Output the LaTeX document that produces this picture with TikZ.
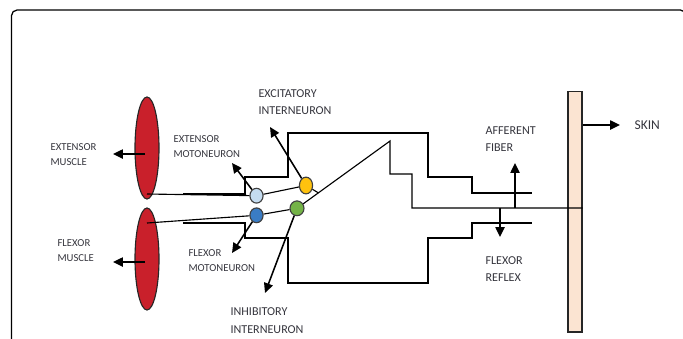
\documentclass[tikz,border=0pt]{standalone}
\usepackage{fontspec}
\setmainfont{Carlito}
\usetikzlibrary{shapes.geometric, positioning, arrows.meta, calc}
\definecolor{musclered}{HTML}{C9202B}
\definecolor{extblue}{HTML}{C5DCF0}
\definecolor{flexblue}{HTML}{3A7CC4}
\definecolor{excityellow}{HTML}{FFC20E}
\definecolor{inhibgreen}{HTML}{74B347}
\definecolor{skinpeach}{HTML}{FBE4D2}
\definecolor{labelgray}{HTML}{36363E}

\begin{document}
\begin{tikzpicture}[x=0.025cm, y=-0.025cm, line width=0.8pt,
    >={Triangle[length=7pt,width=6.5pt]}]
        \tikzset{muscle/.style={ellipse, draw=black!85, fill=musclered, inner sep=0pt,
                minimum width=0.6cm, minimum height=2.55cm},
            neuron/.style={ellipse, draw=black!75, inner sep=0pt,
                minimum width=0.33cm, minimum height=0.37cm},
            skinbar/.style={rectangle, draw=black!85, fill=skinpeach,
                minimum width=0.35cm, minimum height=6.02cm},
            lbl/.style={anchor=west, align=left, inner sep=0pt, text=labelgray},
            small/.style={lbl, font=\fontsize{7.6}{10.6}\selectfont},
            big/.style={lbl, font=\fontsize{8.6}{12.6}\selectfont},
            pointer/.style={->, line width=1.1pt}}
        \useasboundingbox (0,0) rectangle (683,338);
        \draw[line width=0.9pt, rounded corners=4pt] (11.5,10) rectangle (686,360);

        \node[muscle] (extmus) at (147,148) {};
        \node[muscle] (flexmus) at (147,259) {};
        \node[skinbar] (skin) at (575,211.5) {};

        \node[neuron, fill=extblue] (extmoto) at (256.5,195.7) {};
        \node[neuron, fill=flexblue] (flexmoto) at (256.5,215.3) {};
        \node[neuron, fill=excityellow, minimum height=0.42cm] (excit) at (306,185.5) {};
        \node[neuron, fill=inhibgreen, minimum width=0.35cm] (inhib) at (297,208.3) {};

        \node[small] (extmuslbl) at (50,154.5) {EXTENSOR\\MUSCLE};
        \node[small] (flexmuslbl) at (57,251) {FLEXOR\\MUSCLE};
        \node[small] (extmotolbl) at (173,146.5) {EXTENSOR\\MOTONEURON};
        \node[small] (flexmotolbl) at (188,261) {FLEXOR\\MOTONEURON};
        \node[big] (excitlbl) at (258,102) {EXCITATORY\\INTERNEURON};
        \node[big] (inhiblbl) at (230,320.5) {INHIBITORY\\INTERNEURON};
        \node[big] (afflbl) at (485,139) {AFFERENT\\FIBER};
        \node[big] (reflbl) at (485,269) {FLEXOR\\REFLEX};
        \node[lbl, font=\fontsize{9.6}{12}\selectfont] (skinlbl) at (634,125.5) {SKIN};

        \coordinate (apex) at (390,141);
        \coordinate (junc) at ($(inhib)!0.23!(apex)$);
        \coordinate (aff) at (515,208);
        \coordinate (refl) at (500,208);
        \coordinate (extmusout) at (113,154);
        \coordinate (flexmusout) at (113,262);
        \coordinate (extmotoout) at (232,163);
        \coordinate (flexmotoout) at (232,253);
        \coordinate (excitout) at (270,127);
        \coordinate (inhibout) at (265,293);
        \coordinate (affout) at (515,163);
        \coordinate (reflout) at (500,237);
        \coordinate (skinout) at (620,125);

        \draw (183,194) -| (245,177) -| (288,133) -| (428,177) -| (472,193) -- (532,193);
        \draw (183,223) -| (245,238) -| (288,283) -| (428,238) -| (472,223) -- (532,223);
        \draw (inhib) -- (apex) -- (390,174) -| (412,208) -- (skin.east |- aff);
        \draw (excit) -- (junc);
        \draw ($(extmus.center)+(0,46)$) -- (extmoto);
        \draw ($(flexmus.center)+(0,-36)$) -- (flexmoto);
        \draw (extmoto) -- (excit);
        \draw (flexmoto) -- (inhib);

        \draw[pointer] ($(extmus.center)+(-2,6)$) -- (extmusout);
        \draw[pointer] ($(flexmus.center)+(-2,3)$) -- (flexmusout);
        \draw[pointer] (extmoto) -- (extmotoout);
        \draw[pointer] (flexmoto) -- (flexmotoout);
        \draw[pointer] (excit) -- (excitout);
        \draw[pointer] (inhib) -- (inhibout);
        \draw[pointer] (aff) -- (affout);
        \draw[pointer] (refl) -- (reflout);
        \draw[pointer] (skin.east |- skinout) -- (skinout);
    \end{tikzpicture}
\end{document}
